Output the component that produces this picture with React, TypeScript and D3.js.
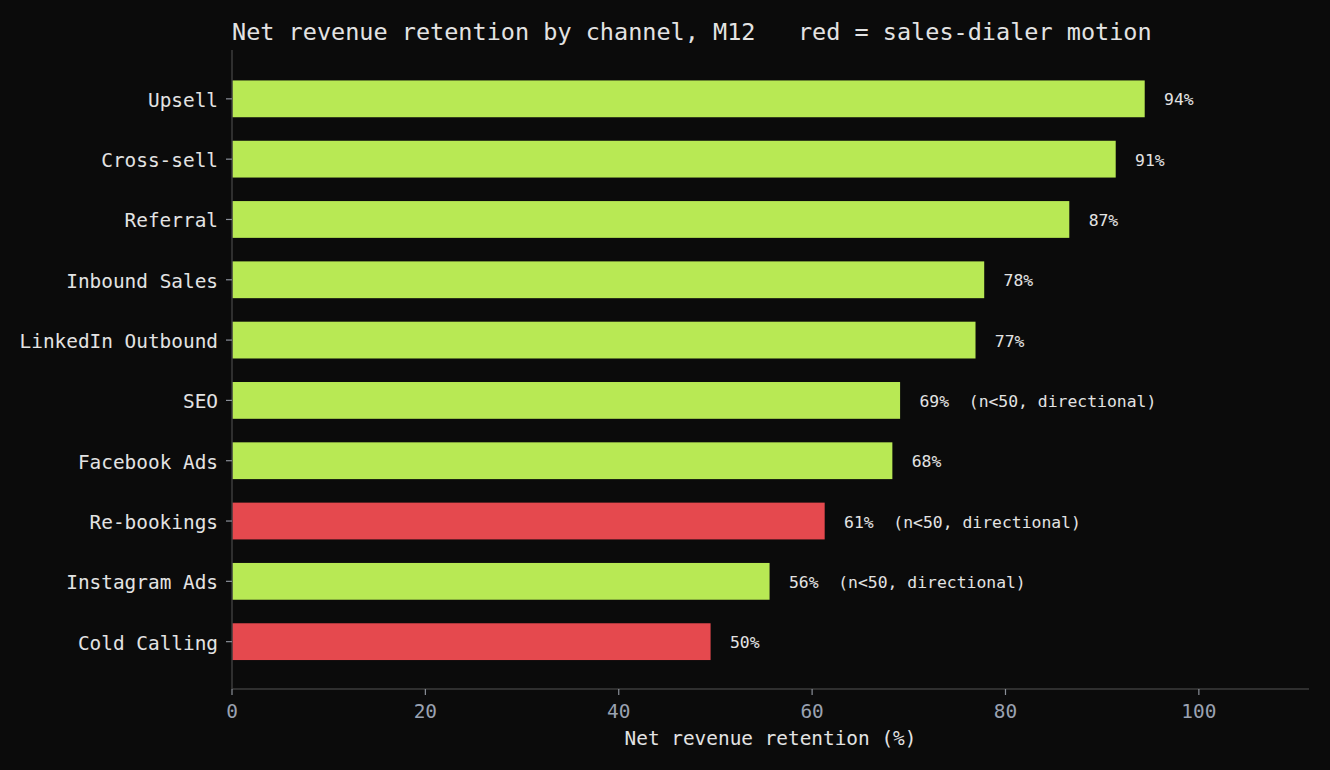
import React from "react";
import * as d3 from "d3";

// Net revenue retention at month 12, by acquisition channel (top to bottom)
const channels = [
  "Upsell",
  "Cross-sell",
  "Referral",
  "Inbound Sales",
  "LinkedIn Outbound",
  "SEO",
  "Facebook Ads",
  "Re-bookings",
  "Instagram Ads",
  "Cold Calling",
];
const nrrValues = [94.4, 91.4, 86.6, 77.8, 76.9, 69.1, 68.3, 61.3, 55.6, 49.5];
// true where the channel is a sales-dialer motion
const dialerMotion = [false, false, false, false, false, false, false, true, false, true];
// channels with small samples
const smallSample = [false, false, false, false, false, true, false, true, true, false];
const xTicks = [0, 20, 40, 60, 80, 100];

const W = 1330;
const H = 770;
const M = { left: 232, right: 1309, top: 50, bottom: 689 };

const BG = "#0b0b0b";
const GREEN = "#b8e954";
const RED = "#e5494e";
const SPINE = "#3c3c3c";
const TEXT = "#e3e3e3";
const TICK_TEXT = "#9aa2b1";
const FONT = "'DejaVu Sans Mono', monospace";

export default function App() {
  const xMax = d3.max(nrrValues)! * 1.18;
  const x = d3.scaleLinear().domain([0, xMax]).range([M.left, M.right]);
  const y = d3
    .scaleBand<string>()
    .domain(channels)
    .range([M.top + 1.5, M.bottom])
    .paddingInner(0.39)
    .paddingOuter(0.48);

  return (
    <svg
      width={W}
      height={H}
      style={{ display: "block", position: "absolute", left: 0, top: 0, background: BG }}
      fontFamily={FONT}
    >
      <rect x={0} y={0} width={W} height={H} fill={BG} />

      {/* bars */}
      {channels.map((c, i) => (
        <rect
          key={c}
          x={x(0)}
          y={y(c)!}
          width={x(nrrValues[i]) - x(0)}
          height={y.bandwidth()}
          fill={dialerMotion[i] ? RED : GREEN}
        />
      ))}

      {/* value labels */}
      {channels.map((c, i) => (
        <text
          key={c}
          x={x(nrrValues[i] + 2)}
          y={y(c)! + y.bandwidth() / 2 + 1}
          dominantBaseline="central"
          fontSize={16.4}
          fill={TEXT}
          style={{ whiteSpace: "pre" }}
        >
          {`${d3.format(".0f")(nrrValues[i])}%${smallSample[i] ? "  (n<50, directional)" : ""}`}
        </text>
      ))}

      {/* spines */}
      <line x1={M.left} x2={M.left} y1={M.top} y2={M.bottom} stroke={SPINE} strokeWidth={1.5} />
      <line x1={M.left} x2={M.right} y1={M.bottom} y2={M.bottom} stroke={SPINE} strokeWidth={1.5} />

      {/* y ticks */}
      {channels.map((c) => {
        const cy = y(c)! + y.bandwidth() / 2;
        return (
          <g key={c}>
            <line x1={M.left - 6} x2={M.left} y1={cy} y2={cy} stroke="#8a8f98" strokeWidth={1.2} />
            <text
              x={M.left - 14}
              y={cy + 1.5}
              textAnchor="end"
              dominantBaseline="central"
              fontSize={19.4}
              fill={TEXT}
            >
              {c}
            </text>
          </g>
        );
      })}

      {/* x ticks */}
      {xTicks.map((t) => (
        <g key={t}>
          <line x1={x(t)} x2={x(t)} y1={M.bottom} y2={M.bottom + 6} stroke="#8a8f98" strokeWidth={1.2} />
          <text x={x(t)} y={M.bottom + 29} textAnchor="middle" fontSize={19.4} fill={TICK_TEXT}>
            {t}
          </text>
        </g>
      ))}

      {/* axis label */}
      <text
        x={(M.left + M.right) / 2}
        y={745}
        textAnchor="middle"
        fontSize={19.4}
        fill={TEXT}
      >
        Net revenue retention (%)
      </text>

      {/* title */}
      <text x={M.left} y={39.5} fontSize={23.5} fill={TEXT} style={{ whiteSpace: "pre" }}>
        {"Net revenue retention by channel, M12   red = sales-dialer motion"}
      </text>
    </svg>
  );
}
